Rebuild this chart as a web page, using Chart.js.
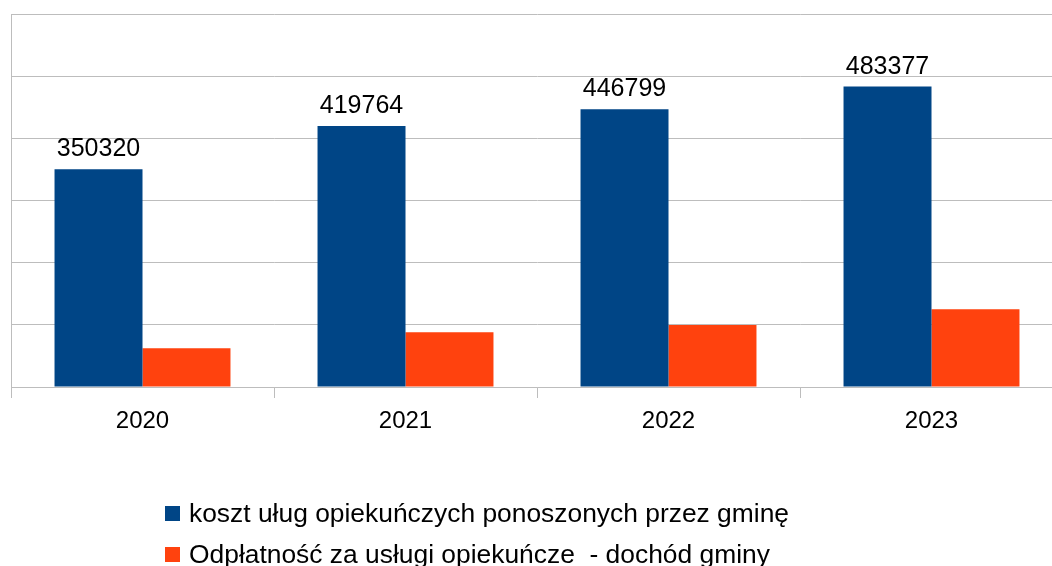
<!DOCTYPE html>
<html lang="pl">
<head>
    <meta charset="UTF-8">
    <title>Koszt usług opiekuńczych</title>
    <script src="https://cdn.jsdelivr.net/npm/chart.js"></script>
    <style>
        body {
            margin: 0;
            padding: 0;
            width: 1052px;
            height: 566px;
            overflow: hidden;
            background: #fff;
            font-family: "Liberation Sans", Arial, sans-serif;
            position: relative;
        }
        #wrap {
            position: absolute;
            left: 0;
            top: 0;
            width: 1063px;
            height: 566px;
        }
        #legend {
            position: absolute;
            left: 165px;
            top: 493px;
            font-size: 26.4px;
            color: #000;
        }
        .item {
            display: flex;
            align-items: center;
            height: 41px;
            white-space: pre;
        }
        .box {
            width: 15px;
            height: 15px;
            margin-right: 9px;
        }
    </style>
</head>
<body>
    <div id="wrap"><canvas id="chart" width="1063" height="566"></canvas></div>
    <div id="legend"></div>

    <script>
        const years = ["2020", "2021", "2022", "2023"];
        const kosztGminy = [350320, 419764, 446799, 483377];
        const odplatnosc = [62300, 88100, 99800, 125100];
        const seriesNames = [
            "koszt uług opiekuńczych ponoszonych przez gminę",
            "Odpłatność za usługi opiekuńcze  - dochód gminy"
        ];
        const seriesColors = ["#004586", "#ff420e"];

        const font = "Liberation Sans, Arial, sans-serif";
        const gridColor = "#bdbdbd";

        // wartości nad niebieskimi słupkami
        const valueLabels = {
            id: "valueLabels",
            afterDatasetsDraw(chart) {
                const ctx = chart.ctx;
                const meta = chart.getDatasetMeta(0);
                ctx.save();
                ctx.font = "25px " + font;
                ctx.fillStyle = "#000";
                ctx.textAlign = "center";
                ctx.textBaseline = "alphabetic";
                meta.data.forEach((bar, i) => {
                    ctx.fillText(String(kosztGminy[i]), bar.x, bar.y - 13);
                });
                ctx.restore();
            }
        };

        const chart = new Chart(document.getElementById("chart"), {
            type: "bar",
            data: {
                labels: years,
                datasets: [
                    { label: seriesNames[0], data: kosztGminy, backgroundColor: seriesColors[0] },
                    { label: seriesNames[1], data: odplatnosc, backgroundColor: seriesColors[1] }
                ]
            },
            options: {
                responsive: false,
                animation: false,
                devicePixelRatio: 1,
                categoryPercentage: 0.669,
                barPercentage: 1,
                layout: { padding: { left: 11, top: 14, right: 0, bottom: 134 } },
                plugins: {
                    legend: { display: false },
                    tooltip: { enabled: false }
                },
                scales: {
                    x: {
                        grid: {
                            offset: true,
                            drawOnChartArea: false,
                            drawTicks: true,
                            tickLength: 11,
                            color: gridColor
                        },
                        border: { color: gridColor },
                        ticks: {
                            color: "#000",
                            font: { family: font, size: 24 },
                            padding: 9
                        },
                        afterFit: s => { s.height = 45; }
                    },
                    y: {
                        min: 0,
                        max: 600000,
                        ticks: { display: false, stepSize: 100000 },
                        grid: { color: gridColor, drawTicks: false },
                        border: { color: gridColor },
                        afterFit: s => { s.width = 0; }
                    }
                }
            },
            plugins: [valueLabels]
        });

        // legenda pod wykresem
        const legend = document.getElementById("legend");
        chart.data.datasets.forEach(ds => {
            const row = document.createElement("div");
            row.className = "item";
            const box = document.createElement("span");
            box.className = "box";
            box.style.background = ds.backgroundColor;
            const txt = document.createElement("span");
            txt.textContent = ds.label;
            row.appendChild(box);
            row.appendChild(txt);
            legend.appendChild(row);
        });
    </script>
</body>
</html>
